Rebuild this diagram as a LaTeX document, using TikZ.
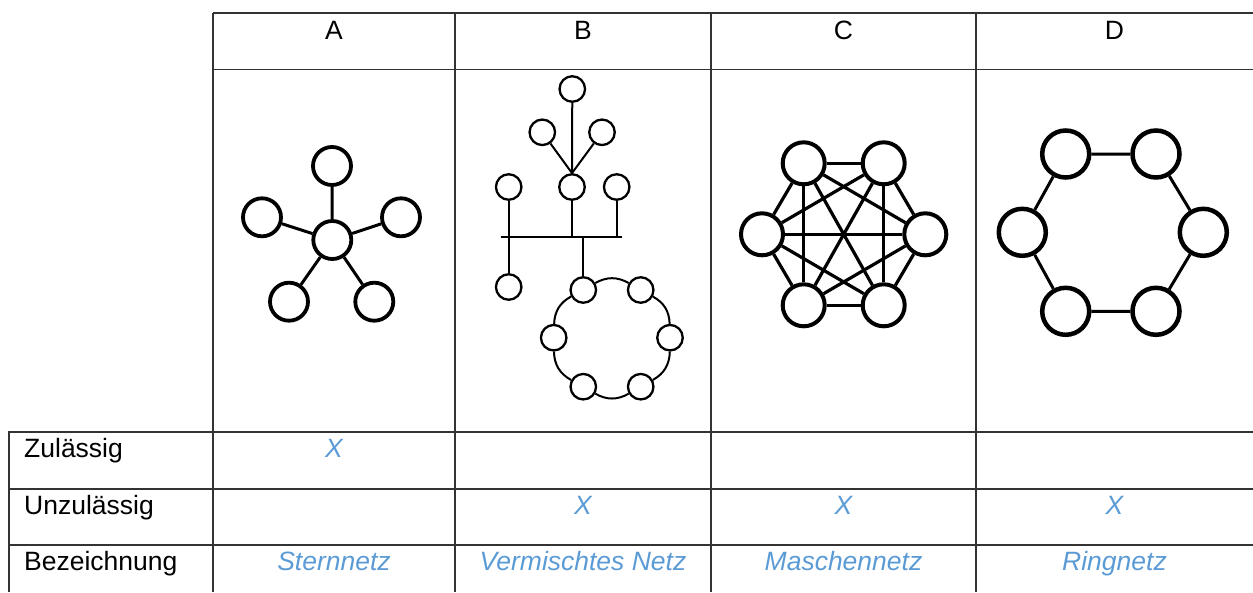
\documentclass[tikz,border=0pt]{standalone}
\usepackage{fontspec}
\setmainfont{Liberation Sans}
\definecolor{xblue}{HTML}{5B9BD5}
\begin{document}
\begin{tikzpicture}[x=1pt,y=-1pt,
  grid/.style={line width=1.4pt, draw=black!80},
  lbl/.style={anchor=base west, font=\fontsize{26.5}{31}\selectfont, inner sep=0},
  hdr/.style={anchor=base, font=\fontsize{26.5}{31}\selectfont, inner sep=0},
  blu/.style={anchor=base, font=\fontsize{26.5}{31}\selectfont\itshape, text=xblue, inner sep=0},
  nA/.style={circle, draw, line width=3.8pt, fill=white, minimum size=38pt, inner sep=0},
  nB/.style={circle, draw, line width=2.3pt, fill=white, minimum size=25.5pt, inner sep=0},
  nC/.style={circle, draw, line width=4pt, fill=white, minimum size=42pt, inner sep=0},
  nD/.style={circle, draw, line width=4.5pt, fill=white, minimum size=47pt, inner sep=0},
  eA/.style={line width=3pt},
  eB/.style={line width=2pt},
  eC/.style={line width=3.2pt},
  eD/.style={line width=3pt}
]
\useasboundingbox (0,0) rectangle (1253,592);
% table grid
\draw[grid] (213,13) -- (1253,13);
\draw[grid] (213,69.5) -- (1253,69.5);
\draw[grid] (9,432) -- (1253,432);
\draw[grid] (9,489) -- (1253,489);
\draw[grid] (9,545) -- (1253,545);
\draw[grid] (9,431) -- (9,592);
\foreach \x in {213,455,711,976} \draw[grid] (\x,13) -- (\x,592);
% headers
\node[hdr] (hA) at (334,39) {A};
\node[hdr] (hB) at (583,39) {B};
\node[hdr] (hC) at (843.5,39) {C};
\node[hdr] (hD) at (1114.5,39) {D};
% row labels
\node[lbl] (lz) at (24,457) {Zulässig};
\node[lbl] (lu) at (24,514) {Unzulässig};
\node[lbl] (lb) at (24,570) {Bezeichnung};
% marks
\node[blu] (xA) at (334,457) {X};
\node[blu] (xB) at (583,514) {X};
\node[blu] (xC) at (843.5,514) {X};
\node[blu] (xD) at (1114.5,514) {X};
\node[blu] (tA) at (334,570) {Sternnetz};
\node[blu] (tB) at (583,570) {Vermischtes Netz};
\node[blu] (tC) at (843.5,570) {Maschennetz};
\node[blu] (tD) at (1114.5,570) {Ringnetz};
% A: star
\node[nA] (a0) at (332.3,240) {};
\node[nA] (a1) at (332,166) {};
\node[nA] (a2) at (262,217.3) {};
\node[nA] (a3) at (401,217.3) {};
\node[nA] (a4) at (289,301.7) {};
\node[nA] (a5) at (374.3,301.7) {};
\foreach \i in {1,...,5} \draw[eA] (a0) -- (a\i);
% B: mixed
\node[nB] (b1) at (572.3,89) {};
\node[nB] (b2) at (542.3,132.3) {};
\node[nB] (b3) at (602,132.3) {};
\node[nB] (b4) at (572,187) {};
\node[nB] (b5) at (508.7,187) {};
\node[nB] (b6) at (616.7,187) {};
\node[nB] (b7) at (508.7,287) {};
\coordinate (busL) at (500.7,236.7);
\coordinate (busR) at (621.7,236.7);
\node[nB] (r1) at (583.3,290) {};
\node[nB] (r2) at (640.7,290) {};
\node[nB] (r3) at (670,337.7) {};
\node[nB] (r4) at (640.7,386.7) {};
\node[nB] (r5) at (583.3,386.7) {};
\node[nB] (r6) at (553.7,337.7) {};
\draw[eB] (busL) -- (busR);
\draw[eB] (b1) -- (b4);
\draw[eB] (b2) -- (b4.north);
\draw[eB] (b3) -- (b4.north);
\draw[eB] (b4) -- (b4 |- busL);
\draw[eB] (b6) -- (b6 |- busL);
\draw[eB] (b5) -- (b7);
\draw[eB] (r1 |- busL) -- (r1);
\draw[eB] (r1) to[bend left=30] (r2);
\draw[eB] (r2) to[bend left=30] (r3);
\draw[eB] (r3) to[bend left=30] (r4);
\draw[eB] (r4) to[bend left=30] (r5);
\draw[eB] (r5) to[bend left=30] (r6);
\draw[eB] (r6) to[bend left=30] (r1);
% C: mesh
\node[nC] (c1) at (803.7,163.3) {};
\node[nC] (c2) at (883.7,163.3) {};
\node[nC] (c3) at (925.3,234.3) {};
\node[nC] (c4) at (883.7,305.3) {};
\node[nC] (c5) at (803.7,305.3) {};
\node[nC] (c6) at (762,234.3) {};
\foreach \i/\j in {1/2,1/3,1/4,1/5,1/6,2/3,2/4,2/5,2/6,3/4,3/5,3/6,4/5,4/6,5/6}
  \draw[eC] (c\i) -- (c\j);
% D: ring
\node[nD] (d1) at (1065.7,154) {};
\node[nD] (d2) at (1156,154) {};
\node[nD] (d3) at (1203.3,232.3) {};
\node[nD] (d4) at (1156,311.3) {};
\node[nD] (d5) at (1065.7,311.3) {};
\node[nD] (d6) at (1022.3,232.3) {};
\draw[eD] (d1) -- (d2) -- (d3) -- (d4) -- (d5) -- (d6) -- (d1);
\end{tikzpicture}
\end{document}
